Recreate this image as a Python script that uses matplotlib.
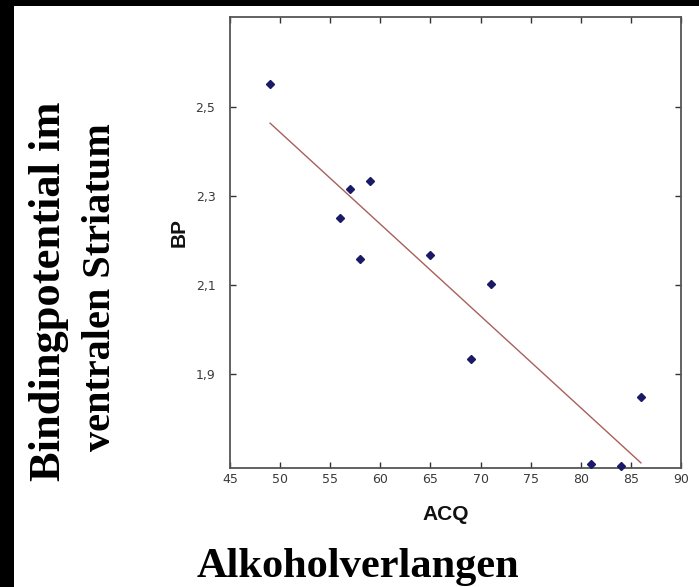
import matplotlib
matplotlib.use("Agg")
import matplotlib.pyplot as plt
from matplotlib.patches import Rectangle
from matplotlib.ticker import FuncFormatter

# ---- data ----
acq = [49, 56, 57, 58, 59, 65, 69, 71, 81, 84, 86]
bp = [2.551, 2.251, 2.316, 2.159, 2.334, 2.168, 1.935, 2.102, 1.700, 1.696, 1.849]
fit_x = [49, 86]
fit_y = [2.463, 1.702]
x_ticks = [45, 50, 55, 60, 65, 70, 75, 80, 85, 90]
y_ticks = [1.9, 2.1, 2.3, 2.5]
x_label = "ACQ"
y_label = "BP"
title_bottom = "Alkoholverlangen"
side_line1 = "Bindingpotential im"
side_line2 = "ventralen Striatum"

W, H = 699, 587
fig = plt.figure(figsize=(W / 100, H / 100), dpi=100)
fig.patch.set_facecolor("white")

def fx(px):
    return px / W

def fy(py):
    return 1 - py / H

ax = fig.add_axes([fx(230), fy(468), fx(681) - fx(230), fy(16.5) - fy(468)])
ax.set_xlim(45, 90)
ax.set_ylim(1.6905, 2.702)

ax.plot(fit_x, fit_y, color="#a8605a", lw=1.0, zorder=2)
ax.plot(acq, bp, linestyle="none", marker="D", markersize=4.0,
        color="#1a1a66", zorder=3, clip_on=False)

ax.set_xticks(x_ticks)
ax.set_yticks(y_ticks)
ax.yaxis.set_major_formatter(FuncFormatter(lambda v, p: f"{v:.1f}".replace(".", ",")))
ax.tick_params(direction="in", length=4, width=1, color="#333333",
               top=True, right=True, labelsize=9, labelcolor="#3a3a3a")
ax.tick_params(axis="x", pad=3.5)
ax.tick_params(axis="y", pad=10.5)
for s in ax.spines.values():
    s.set_color("#555555")
    s.set_linewidth(1.3)

# axis labels
fig.text(fx(445.5), fy(515), x_label, ha="center", va="center",
         fontsize=15, fontweight="bold", family="Liberation Sans", color="#111111")
fig.text(fx(179), fy(232.5), y_label, ha="center", va="center", rotation=90,
         fontsize=15, fontweight="bold", family="Liberation Sans", color="#111111")

# outer labels
fig.text(fx(358), fy(577), title_bottom, ha="center", va="baseline",
         fontsize=30.5, fontweight="bold", family="Liberation Serif", color="black")
fig.text(fx(49), fy(291), side_line1, ha="center", va="center", rotation=90,
         fontsize=32, fontweight="bold", family="Liberation Serif", color="black")
fig.text(fx(100), fy(287.5), side_line2, ha="center", va="center", rotation=90,
         fontsize=29, fontweight="bold", family="Liberation Serif", color="black")

# black borders of the original picture
fig.patches.append(Rectangle((0, 0), fx(14), 1, transform=fig.transFigure,
                             facecolor="black", edgecolor="none", zorder=10))
fig.patches.append(Rectangle((0, fy(6)), 1, 1 - fy(6), transform=fig.transFigure,
                             facecolor="black", edgecolor="none", zorder=10))

fig.savefig("out.png", dpi=100)
